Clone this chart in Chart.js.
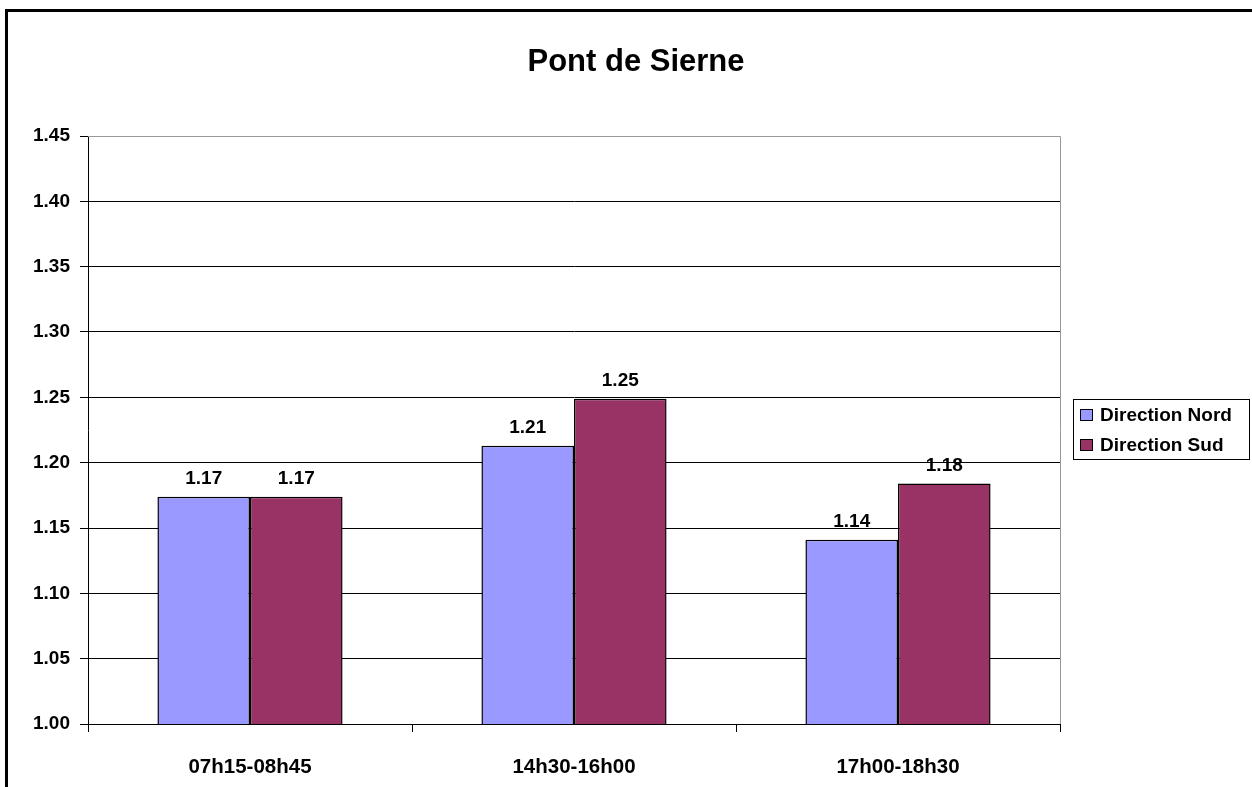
<!DOCTYPE html>
<html>
<head>
<meta charset="utf-8">
<script src="https://cdn.jsdelivr.net/npm/chart.js@4"></script>
<style>
  body { margin: 0; background: #fff; overflow: hidden; }
  #wrap { position: absolute; left: 0; top: 0; width: 1252px; height: 787px; }
  #frame { position: absolute; left: 5px; top: 9px; width: 1400px; height: 1000px; border: 3px solid #000; pointer-events: none; }
</style>
</head>
<body>
<div id="wrap"><canvas id="chart"></canvas></div>
<div id="frame"></div>
<script>
const chartTitle = "Pont de Sierne";
const periods = ["07h15-08h45", "14h30-16h00", "17h00-18h30"];
const nord = [1.174, 1.213, 1.141];
const sud = [1.174, 1.249, 1.184];
const yTicks = [1.00, 1.05, 1.10, 1.15, 1.20, 1.25, 1.30, 1.35, 1.40, 1.45];

const font = "'Liberation Sans', Arial, sans-serif";

// titre centré sur toute la largeur
const pageTitle = {
    id: 'pageTitle',
    afterDraw(chart) {
        const ctx = chart.ctx;
        ctx.save();
        ctx.fillStyle = '#000';
        ctx.font = 'bold 31px ' + font;
        ctx.textAlign = 'center';
        ctx.textBaseline = 'alphabetic';
        ctx.fillText(chartTitle, 636, 71);
        ctx.restore();
    }
};

// valeurs au-dessus des barres
const barLabels = {
    id: 'barLabels',
    afterDatasetsDraw(chart) {
        const ctx = chart.ctx;
        ctx.save();
        ctx.fillStyle = '#000';
        ctx.font = 'bold 19px ' + font;
        ctx.textAlign = 'center';
        ctx.textBaseline = 'alphabetic';
        chart.data.datasets.forEach((ds, i) => {
            chart.getDatasetMeta(i).data.forEach((bar, j) => {
                ctx.fillText(ds.data[j].toFixed(2), bar.x, bar.y - 13);
            });
        });
        ctx.restore();
    }
};

// bord gris de la zone de tracé
const plotBorder = {
    id: 'plotBorder',
    beforeDatasetsDraw(chart) {
        const a = chart.chartArea;
        const ctx = chart.ctx;
        ctx.save();
        ctx.strokeStyle = '#999';
        ctx.lineWidth = 1;
        ctx.beginPath();
        ctx.moveTo(a.left, a.top + 0.5);
        ctx.lineTo(a.right + 0.5, a.top + 0.5);
        ctx.lineTo(a.right + 0.5, a.bottom);
        ctx.stroke();
        ctx.restore();
    }
};

// légende encadrée à droite
const boxLegend = {
    id: 'boxLegend',
    afterDraw(chart) {
        const ctx = chart.ctx;
        const x = 1073, y = 399, w = 176, h = 60;
        ctx.save();
        ctx.fillStyle = '#fff';
        ctx.fillRect(x, y, w, h);
        ctx.strokeStyle = '#000';
        ctx.lineWidth = 1;
        ctx.strokeRect(x + 0.5, y + 0.5, w, h);
        ctx.font = 'bold 19px ' + font;
        ctx.textBaseline = 'middle';
        chart.data.datasets.forEach((ds, i) => {
            const cy = y + 16 + i * 30;
            ctx.fillStyle = ds.backgroundColor;
            ctx.fillRect(x + 7, cy - 6, 12, 11);
            ctx.strokeRect(x + 7.5, cy - 5.5, 12, 11);
            ctx.fillStyle = '#000';
            ctx.fillText(ds.label, x + 27, cy + 1);
        });
        ctx.restore();
    }
};

new Chart(document.querySelector('#chart'), {
    type: 'bar',
    data: {
        labels: periods,
        datasets: [{
            label: 'Direction Nord',
            data: nord,
            backgroundColor: '#9999FF',
            borderColor: '#000',
            borderWidth: 1.5,
            borderSkipped: false
        }, {
            label: 'Direction Sud',
            data: sud,
            backgroundColor: '#993366',
            borderColor: '#000',
            borderWidth: 1.5,
            borderSkipped: false
        }]
    },
    options: {
        responsive: true,
        maintainAspectRatio: false,
        animation: false,
        datasets: {
            bar: {
                categoryPercentage: 2 / 3.5,
                barPercentage: 1
            }
        },
        layout: {
            padding: { left: 0, right: 192, top: 136, bottom: 0 }
        },
        plugins: {
            legend: { display: false },
            tooltip: { enabled: false },
            title: { display: false }
        },
        scales: {
            x: {
                afterFit: (s) => { s.height = 63; },
                border: { color: '#000', width: 1 },
                grid: {
                    offset: true,
                    drawOnChartArea: false,
                    color: '#000',
                    tickLength: 8
                },
                ticks: {
                    color: '#000',
                    padding: 23,
                    font: { family: font, size: 20.5, weight: 'bold' }
                }
            },
            y: {
                min: 1.00,
                max: 1.45,
                afterFit: (s) => { s.width = 88; },
                afterBuildTicks: (s) => { s.ticks = yTicks.map(v => ({ value: v })); },
                border: { color: '#000', width: 1 },
                grid: {
                    color: (c) => c.tick && c.tick.value === 1.45 ? '#999' : '#000',
                    tickLength: 8,
                    tickColor: '#000'
                },
                ticks: {
                    color: '#000',
                    padding: 10,
                    font: { family: font, size: 19, weight: 'bold' },
                    callback: (v) => Number(v).toFixed(2)
                }
            }
        }
    },
    plugins: [barLabels, plotBorder, boxLegend, pageTitle]
});
</script>
</body>
</html>
